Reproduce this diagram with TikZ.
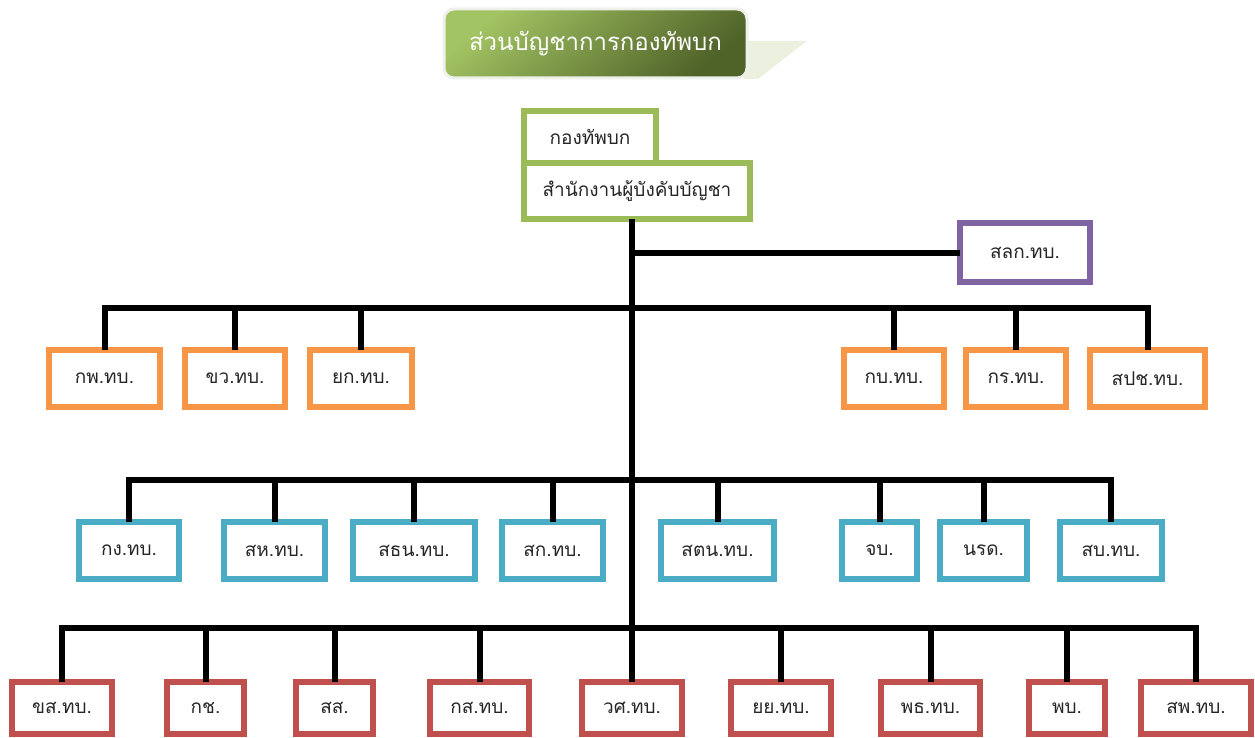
\documentclass[tikz,border=0pt]{standalone}
\usepackage{fontspec}
\setmainfont[Script=Thai]{Loma}
\usepackage{color}

\definecolor{ogreen}{HTML}{9BBB59}
\definecolor{oorange}{HTML}{F79646}
\definecolor{oblue}{HTML}{4BACC6}
\definecolor{ored}{HTML}{C0504D}
\definecolor{opurple}{HTML}{8064A2}
\definecolor{tlight}{HTML}{A3C463}
\definecolor{tdark}{HTML}{4F6228}
\definecolor{tshade}{HTML}{EBF1DE}
\definecolor{tedge}{HTML}{EEF0EA}

\begin{document}
\begin{tikzpicture}[x=1pt,y=-1pt,
  box/.style={draw,line width=6pt,fill=white,inner sep=0pt,outer sep=0pt,
    text=black!85,font=\fontsize{19}{21}\selectfont},
  gbox/.style={box,draw=ogreen},
  obox/.style={box,draw=oorange},
  bbox/.style={box,draw=oblue},
  rbox/.style={box,draw=ored},
  pbox/.style={box,draw=opurple},
  conn/.style={line width=6pt,black}]
\useasboundingbox (0,0) rectangle (1255,738);

\fill[tshade] (744,41) -- (807,41) -- (758,79) -- (744,79) -- cycle;
\node[draw=tedge,line width=3pt,rounded corners=10pt,top color=tlight,bottom color=tdark,shading angle=40,
  minimum width=303pt,minimum height=69pt,text=white,font=\fontsize{24}{26}\selectfont] (title) at (595.5,43.5) {ส่วนบัญชาการกองทัพบก};

\node[gbox,minimum width=226pt,minimum height=56pt] (office) at (637,191) {สำนักงานผู้บังคับบัญชา};
\node[gbox,minimum width=132pt,minimum height=52pt] (army) at (590,137) {กองทัพบก};
\node[pbox,minimum width=130pt,minimum height=59pt] (slk) at (1025,252.5) {สลก.ทบ.};

\node[obox,minimum width=111pt,minimum height=57pt] (kp) at (104.5,378.5) {กพ.ทบ.};
\node[obox,minimum width=100pt,minimum height=57pt] (kv) at (235,378.5) {ขว.ทบ.};
\node[obox,minimum width=102pt,minimum height=57pt] (yk) at (361,378.5) {ยก.ทบ.};
\node[obox,minimum width=100pt,minimum height=57pt] (kb) at (894,378.5) {กบ.ทบ.};
\node[obox,minimum width=100pt,minimum height=57pt] (kr) at (1016,378.5) {กร.ทบ.};
\node[obox,minimum width=115pt,minimum height=57pt] (spc) at (1147.5,378.5) {สปช.ทบ.};

\node[bbox,minimum width=100pt,minimum height=57pt] (kng) at (129,550.5) {กง.ทบ.};
\node[bbox,minimum width=101pt,minimum height=57pt] (sh) at (274.5,550.5) {สห.ทบ.};
\node[bbox,minimum width=122pt,minimum height=57pt] (stn) at (414,550.5) {สธน.ทบ.};
\node[bbox,minimum width=101pt,minimum height=57pt] (sk) at (552.5,550.5) {สก.ทบ.};
\node[bbox,minimum width=113pt,minimum height=57pt] (stnn) at (717.5,550.5) {สตน.ทบ.};
\node[bbox,minimum width=75pt,minimum height=57pt] (jb) at (879.5,550.5) {จบ.};
\node[bbox,minimum width=87pt,minimum height=57pt] (nrd) at (983.5,550.5) {นรด.};
\node[bbox,minimum width=102pt,minimum height=57pt] (sb) at (1111,550.5) {สบ.ทบ.};

\node[rbox,minimum width=100pt,minimum height=52pt] (khs) at (62,708) {ขส.ทบ.};
\node[rbox,minimum width=77pt,minimum height=52pt] (kch) at (205.5,708) {กช.};
\node[rbox,minimum width=77pt,minimum height=52pt] (ss) at (334.5,708) {สส.};
\node[rbox,minimum width=99pt,minimum height=52pt] (kas) at (479.5,708) {กส.ทบ.};
\node[rbox,minimum width=100pt,minimum height=52pt] (ws) at (632,708) {วศ.ทบ.};
\node[rbox,minimum width=100pt,minimum height=52pt] (yy) at (781,708) {ยย.ทบ.};
\node[rbox,minimum width=99pt,minimum height=52pt] (pt) at (930.5,708) {พธ.ทบ.};
\node[rbox,minimum width=76pt,minimum height=52pt] (pb) at (1067,708) {พบ.};
\node[rbox,minimum width=110pt,minimum height=52pt] (sp) at (1196,708) {สพ.ทบ.};

\coordinate (bus_1) at (632,308);
\coordinate (bus_2) at (632,480);
\coordinate (bus_3) at (632,628);

\draw[conn] (ws.north |- office.south) -- (ws.north);
\draw[conn] (ws.north |- slk.west) -- (slk.west);

\draw[conn] (kp.north) |- (bus_1) -| (spc.north);
\foreach \n in {kv,yk,kb,kr}
  \draw[conn] (\n.north) -- (\n.north |- bus_1);

\draw[conn] (kng.north) |- (bus_2) -| (sb.north);
\foreach \n in {sh,stn,sk,stnn,jb,nrd}
  \draw[conn] (\n.north) -- (\n.north |- bus_2);

\draw[conn] (khs.north) |- (bus_3) -| (sp.north);
\foreach \n in {kch,ss,kas,yy,pt,pb}
  \draw[conn] (\n.north) -- (\n.north |- bus_3);

\end{tikzpicture}
\end{document}
